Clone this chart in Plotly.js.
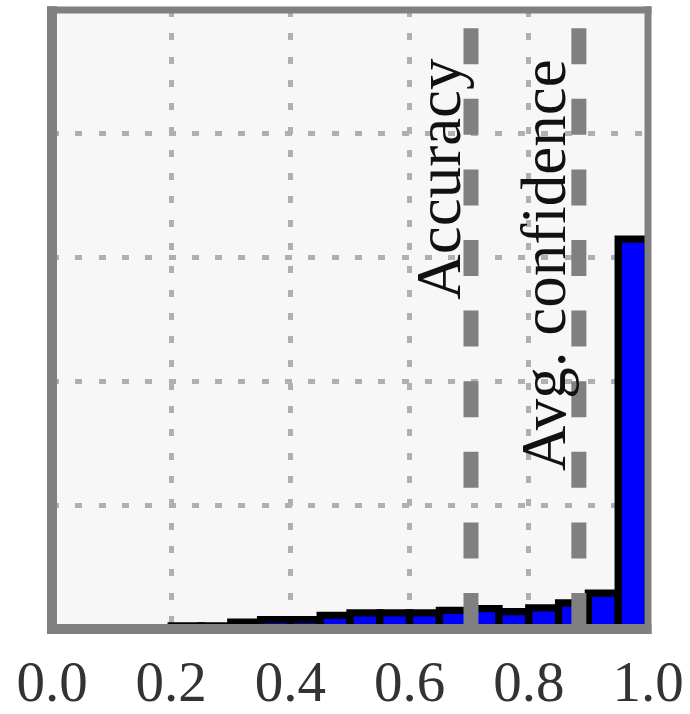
<!DOCTYPE html>
<html>
<head>
<meta charset="utf-8">
<script src="https://cdn.plot.ly/plotly-3.0.1.min.js"></script>
<style>html,body{margin:0;padding:0;background:#fff;}#chart{width:690px;height:714px;}</style>
</head>
<body>
<div id="chart"></div>
<script>
// Histogram bins (left edges) and fraction of samples per bin
const binLeft = [0.00,0.05,0.10,0.15,0.20,0.25,0.30,0.35,0.40,0.45,0.50,0.55,0.60,0.65,0.70,0.75,0.80,0.85,0.90,0.95];
const fraction = [0,0,0,0,0.005,0.005,0.011,0.015,0.015,0.022,0.026,0.026,0.026,0.030,0.033,0.028,0.034,0.042,0.058,0.630];
const binWidth = 0.05;
const accuracy = 0.703;
const avgConfidence = 0.884;
const tickVals = [0,0.2,0.4,0.6,0.8,1.0];
const tickText = ['0.0','0.2','0.4','0.6','0.8','1.0'];

const W = 690, H = 714;
const L = 51.7, R = 648.5, T = 9.7, B = 629;
const pw = R - L, ph = B - T;
const px2x = p => (p - L) / pw;
const px2y = p => (B - p) / ph;

const trace = {
  type: 'bar',
  x: binLeft.map(v => v + binWidth / 2),
  y: fraction,
  width: binWidth,
  marker: {color: '#0000ff', line: {color: '#000000', width: 7.3}},
  hoverinfo: 'skip'
};

const gray = '#808080';
const shapes = [
  {type:'line', xref:'x', yref:'y', x0:accuracy, x1:accuracy, y0:0, y1:1, line:{color:gray, width:15, dash:'36px,34.6px'}, layer:'above'},
  {type:'line', xref:'x', yref:'y', x0:avgConfidence, x1:avgConfidence, y0:0, y1:1, line:{color:gray, width:15, dash:'36px,34.6px'}, layer:'above'},
  // frame
  {type:'line', xref:'paper', yref:'paper', x0:0, x1:0, y0:px2y(634), y1:px2y(6), line:{color:gray, width:10}, layer:'above'},
  {type:'line', xref:'paper', yref:'paper', x0:px2x(46.7), x1:px2x(652), y0:0, y1:0, line:{color:gray, width:10}, layer:'above'},
  {type:'line', xref:'paper', yref:'paper', x0:1, x1:1, y0:px2y(634), y1:px2y(6), line:{color:gray, width:7}, layer:'above'},
  {type:'line', xref:'paper', yref:'paper', x0:px2x(46.7), x1:px2x(652), y0:1, y1:1, line:{color:gray, width:7}, layer:'above'}
];

const serif = 'Liberation Serif, Times New Roman, serif';
const annotations = [
  {xref:'x', yref:'y', x:0.650, y:0.728, text:'Accuracy', textangle:-90, showarrow:false,
   xanchor:'center', yanchor:'middle', font:{family:serif, size:63, color:'#111'}},
  {xref:'x', yref:'y', x:0.8255, y:0.588, text:'Avg. confidence', textangle:-90, showarrow:false,
   xanchor:'center', yanchor:'middle', font:{family:serif, size:63, color:'#111'}}
];

const layout = {
  width: W, height: H,
  margin: {l: L, r: W - R, t: T, b: H - B, pad: 0},
  paper_bgcolor: '#ffffff',
  plot_bgcolor: '#f7f7f7',
  showlegend: false,
  bargap: 0,
  xaxis: {
    range: [0, 1], tickvals: tickVals, ticktext: tickText, ticks: '',
    showline: false, zeroline: false,
    showgrid: true, gridcolor: '#b0b0b0', gridwidth: 5, griddash: '7px,16.3px',
    tickfont: {family: serif, size: 57, color: '#333'},
    ticklabelstandoff: 14, fixedrange: true
  },
  yaxis: {
    range: [0, 1], dtick: 0.2, tick0: 0, showticklabels: false, ticks: '',
    showline: false, zeroline: false,
    showgrid: true, gridcolor: '#b0b0b0', gridwidth: 5, griddash: '7px,16.3px',
    fixedrange: true
  },
  shapes: shapes,
  annotations: annotations
};

Plotly.newPlot('chart', [trace], layout, {staticPlot: true, displayModeBar: false});
</script>
</body>
</html>
